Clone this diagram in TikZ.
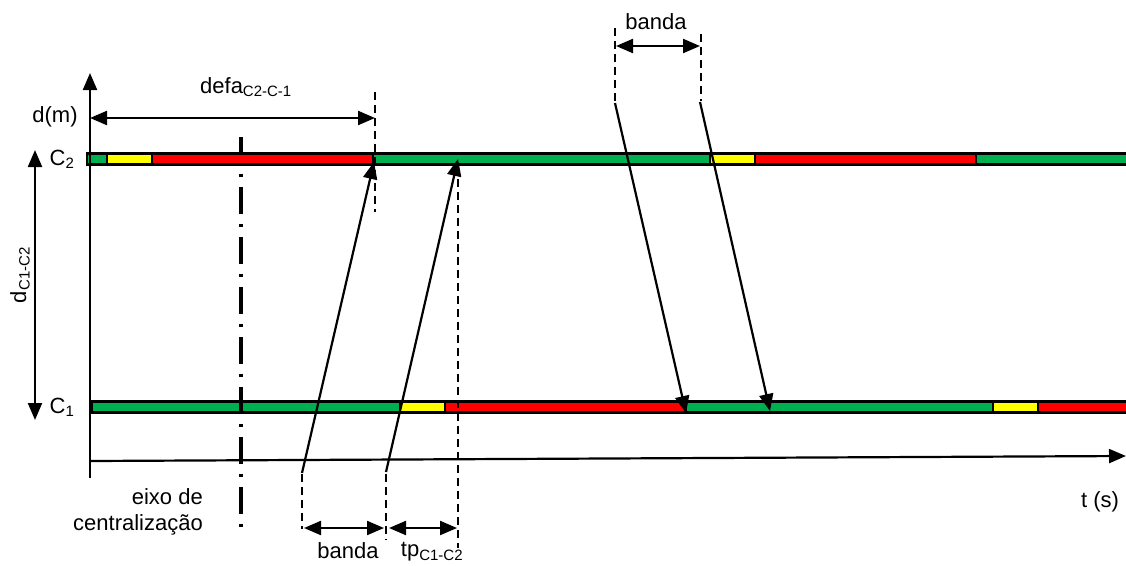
\documentclass[tikz,border=0pt]{standalone}
\usepackage{fontspec}
\setmainfont{Liberation Sans}
\usetikzlibrary{arrows.meta}
\definecolor{sgreen}{HTML}{00B050}
\definecolor{syellow}{HTML}{FFFF00}
\definecolor{sred}{HTML}{FF0000}
\tikzset{
  seg/.style={draw=black, line width=2.2pt},
  conn/.style={line width=2.2pt},
  tip/.style={-{Triangle[length=17pt,width=14pt]}},
  dtip/.style={{Triangle[length=17pt,width=14pt]}-{Triangle[length=17pt,width=14pt]}},
  guide/.style={line width=2pt, dash pattern=on 8pt off 5pt},
  axisdd/.style={line width=3.6pt, dash pattern=on 27pt off 9.5pt on 3pt off 10.5pt},
  lbl/.style={font=\fontsize{22}{26}\selectfont, inner sep=0pt},
}
\newcommand{\sbs}[1]{\textsubscript{\fontsize{15}{17}\selectfont #1}}
\begin{document}
\begin{tikzpicture}[x=1pt,y=-1pt]
\useasboundingbox (0,0) rectangle (1126,565);
% C1 bar
\filldraw[seg,fill=sgreen] (92,401.5) rectangle (400,412.5);
\filldraw[seg,fill=syellow] (400,401.5) rectangle (445,412.5);
\filldraw[seg,fill=sred] (445,401.5) rectangle (686,412.5);
\filldraw[seg,fill=sgreen] (686,401.5) rectangle (993,412.5);
\filldraw[seg,fill=syellow] (993,401.5) rectangle (1038,412.5);
\filldraw[seg,fill=sred] (1038,401.5) rectangle (1128,412.5);

% eixo de centralizacao
\coordinate (e1) at (241,137);
\coordinate (e2) at (241,528);
\draw[axisdd] (e1) -- (e2);

% C2 bar
\filldraw[seg,fill=sgreen] (87,153.5) rectangle (107,164.5);
\filldraw[seg,fill=syellow] (107,153.5) rectangle (152,164.5);
\filldraw[seg,fill=sred] (152,153.5) rectangle (373,164.5);
\filldraw[seg,fill=sgreen] (373,153.5) rectangle (710,164.5);
\filldraw[seg,fill=syellow] (710,153.5) rectangle (755,164.5);
\filldraw[seg,fill=sred] (755,153.5) rectangle (976,164.5);
\filldraw[seg,fill=sgreen] (976,153.5) rectangle (1128,164.5);

% axes
\coordinate (yb) at (90,478);
\coordinate (yt) at (90,73);
\draw[conn,tip] (yb) -- (yt);
\coordinate (tl) at (90,461);
\coordinate (tr) at (1126,456);
\draw[conn,tip] (tl) -- (tr);

% d_C1-C2 arrow
\coordinate (da) at (35,150);
\coordinate (db) at (35,420);
\draw[conn,dtip] (da) -- (db);

% defa
\coordinate (fa) at (90,118);
\coordinate (fb) at (375,118);
\draw[conn,dtip] (fa) -- (fb);
\coordinate (g1a) at (375,92);
\coordinate (g1b) at (375,212);
\draw[guide] (g1a) -- (g1b);

% upward arrows
\coordinate (u1s) at (302,473);
\coordinate (u1e) at (374,162);
\draw[conn,tip] (u1s) -- (u1e);
\coordinate (u2s) at (386,472);
\coordinate (u2e) at (458,159);
\draw[conn,tip] (u2s) -- (u2e);
\coordinate (g2a) at (302,474);
\coordinate (g2b) at (302,529);
\draw[guide] (g2a) -- (g2b);
\coordinate (g3a) at (386,474);
\coordinate (g3b) at (386,540);
\draw[guide] (g3a) -- (g3b);
\coordinate (g4a) at (458,166);
\coordinate (g4b) at (458,548);
\draw[guide] (g4a) -- (g4b);
\coordinate (b1a) at (304,528);
\coordinate (b1b) at (384,528);
\draw[conn,dtip] (b1a) -- (b1b);
\coordinate (b2a) at (389,528);
\coordinate (b2b) at (457,528);
\draw[conn,dtip] (b2a) -- (b2b);

% downward arrows
\coordinate (d1s) at (615,103);
\coordinate (d1e) at (686,413);
\draw[conn,tip] (d1s) -- (d1e);
\coordinate (d2s) at (700,102);
\coordinate (d2e) at (770,411);
\draw[conn,tip] (d2s) -- (d2e);
\coordinate (g5a) at (615,28);
\coordinate (g5b) at (615,102);
\draw[guide] (g5a) -- (g5b);
\coordinate (g6a) at (701,34);
\coordinate (g6b) at (701,101);
\draw[guide] (g6a) -- (g6b);
\coordinate (b3a) at (616,46);
\coordinate (b3b) at (700,46);
\draw[conn,dtip] (b3a) -- (b3b);

% labels
\node[lbl] (dm) at (55,117) {d(m)};
\node[lbl] (defa) at (246,87) {defa\sbs{C2-C-1}};
\node[lbl] (c2) at (62,159) {C\sbs{2}};
\node[lbl] (c1) at (62,407) {C\sbs{1}};
\node[lbl, rotate=90] (dc) at (20,275) {d\sbs{C1-C2}};
\node[lbl, align=right, anchor=east] (eixo) at (203,512) {eixo de\\centralização};
\node[lbl] (band1) at (348,551) {banda};
\node[lbl] (tp) at (432,552) {tp\sbs{C1-C2}};
\node[lbl] (ts) at (1100,502) {t (s)};
\node[lbl] (band2) at (656,22) {banda};
\end{tikzpicture}
\end{document}
